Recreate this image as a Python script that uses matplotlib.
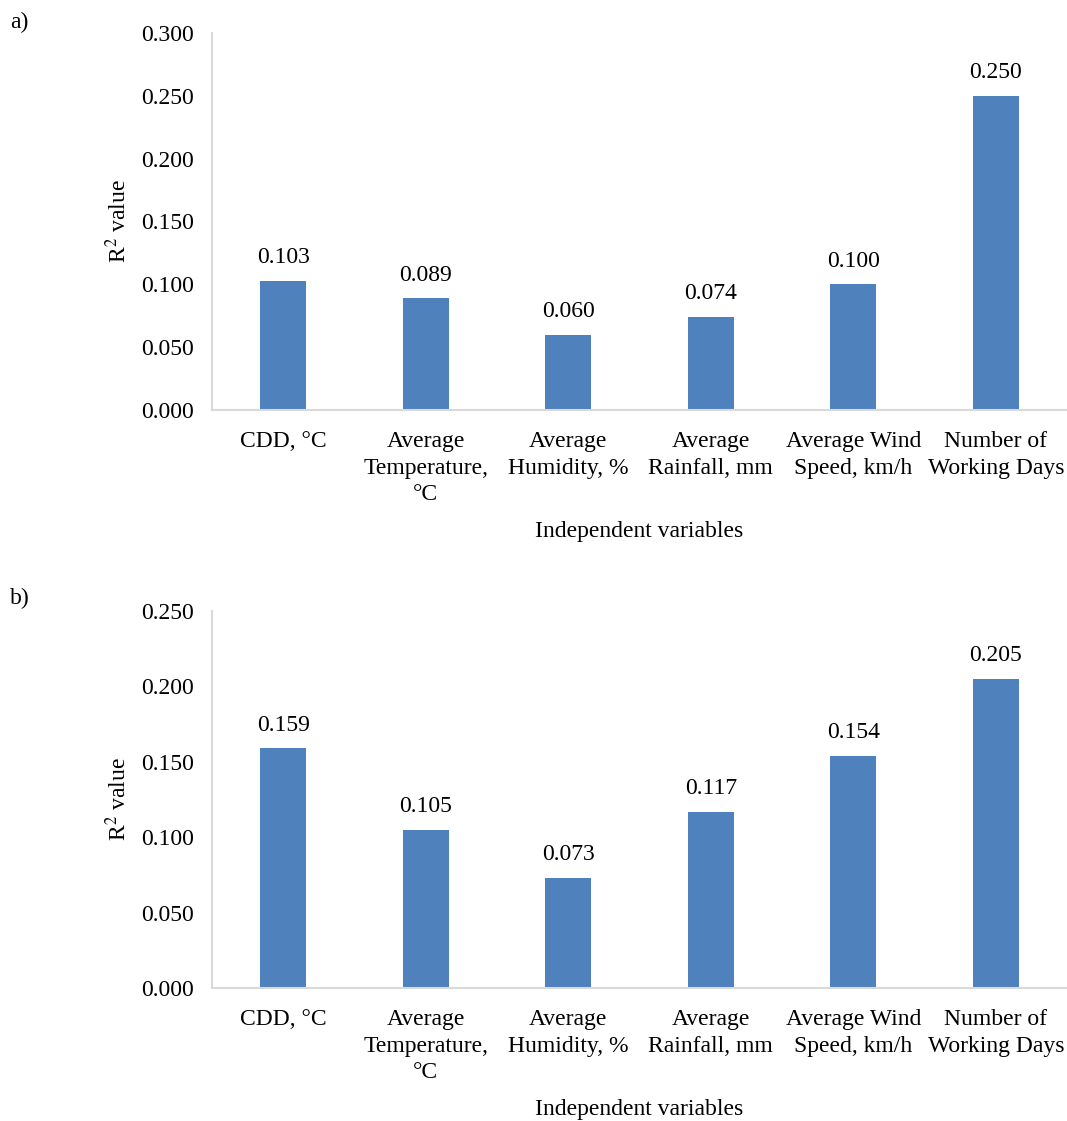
"""R2 of each independent variable, two panels."""
import numpy as np
import matplotlib
matplotlib.use("Agg")
import matplotlib.pyplot as plt

plt.rcParams["font.family"] = ["Liberation Serif", "DejaVu Serif"]
plt.rcParams["mathtext.fontset"] = "stix"

categories = ["CDD, °C", "Average\nTemperature,\n°C", "Average\nHumidity, %",
              "Average\nRainfall, mm", "Average Wind\nSpeed, km/h", "Number of\nWorking Days"]
r2_a = [0.103, 0.089, 0.060, 0.074, 0.100, 0.250]
r2_b = [0.159, 0.105, 0.073, 0.117, 0.154, 0.205]
yticks_a = [0.0, 0.05, 0.10, 0.15, 0.20, 0.25, 0.30]
yticks_b = [0.0, 0.05, 0.10, 0.15, 0.20, 0.25]

BAR = "#4f81bd"
AXIS = "#d9d9d9"
FS = 17


def panel(ax, vals, yticks):
    x = np.arange(len(categories))
    ax.bar(x, vals, width=0.32, color=BAR, zorder=2)
    for xi, v in zip(x, vals):
        ax.annotate(f"{v:.3f}", (xi, v), xytext=(0, 9), textcoords="offset points",
                    ha="center", va="bottom", fontsize=FS)
    ax.set_xlim(-0.5, len(categories) - 0.5)
    ax.set_ylim(yticks[0], yticks[-1])
    ax.set_yticks(yticks)
    ax.set_yticklabels([f"{t:.3f}" for t in yticks], fontsize=FS)
    ax.set_xticks(x)
    ax.set_xticklabels(categories, fontsize=FS, linespacing=1.36, va="top")
    ax.tick_params(axis="both", length=0)
    ax.tick_params(axis="y", pad=13)
    ax.tick_params(axis="x", pad=15)
    for s in ("top", "right"):
        ax.spines[s].set_visible(False)
    for s in ("left", "bottom"):
        ax.spines[s].set_color(AXIS)
        ax.spines[s].set_linewidth(1.5)
    ax.set_ylabel("R$^2$ value", fontsize=FS, labelpad=7)
    ax.set_xlabel("Independent variables", fontsize=FS, labelpad=11)


fig = plt.figure(figsize=(10.67, 11.21), dpi=100)
ax_a = fig.add_axes([0.1987, 0.6343, 0.8013, 0.3363])
ax_b = fig.add_axes([0.1987, 0.1186, 0.8013, 0.3363])
panel(ax_a, r2_a, yticks_a)
panel(ax_b, r2_b, yticks_b)
fig.text(10 / 1067, 1 - 22 / 1121, "a)", fontsize=FS, ha="left", va="center")
fig.text(10 / 1067, 1 - 598 / 1121, "b)", fontsize=FS, ha="left", va="center")

fig.savefig("out.png", dpi=100)
